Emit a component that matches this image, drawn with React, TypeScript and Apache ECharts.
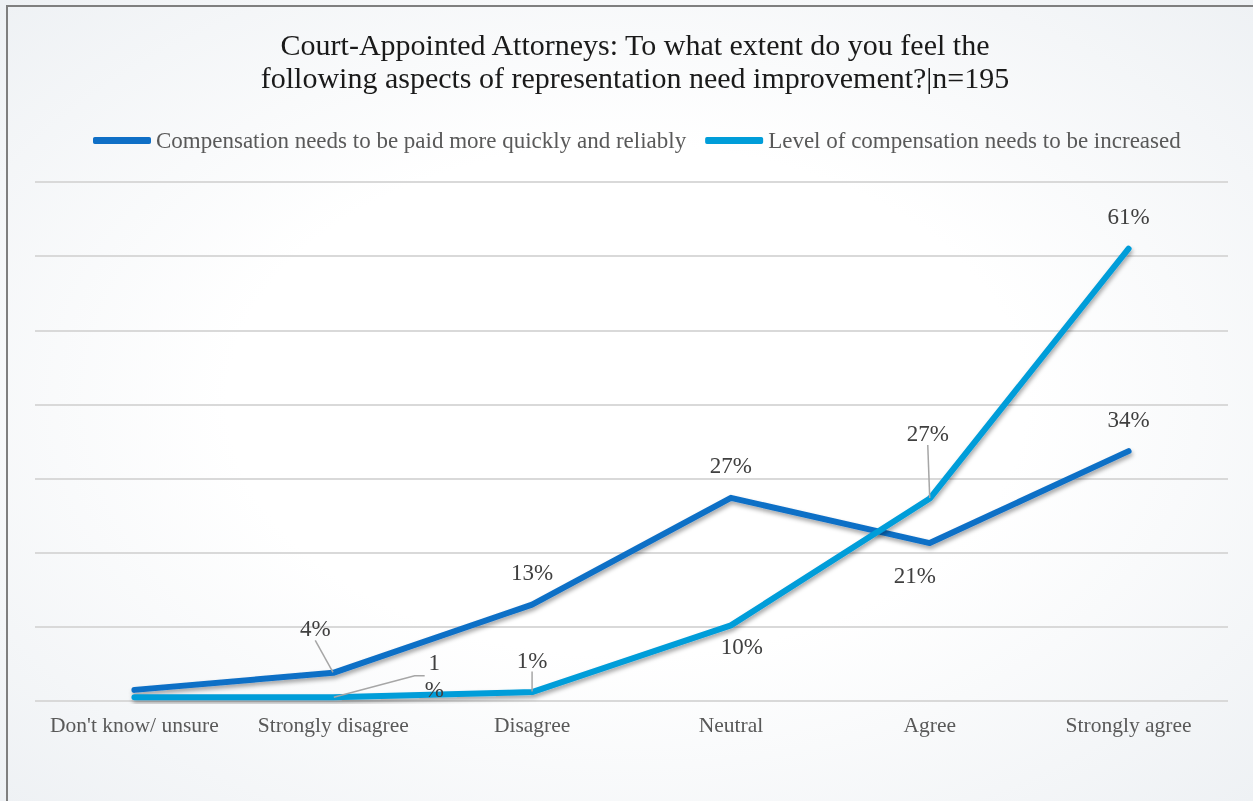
import React, { useEffect, useRef } from "react";
import * as echarts from "echarts";

const categories = ["Don't know/ unsure", "Strongly disagree", "Disagree", "Neutral", "Agree", "Strongly agree"];
const seriesNames = [
  "Compensation needs to be paid more quickly and reliably",
  "Level of compensation needs to be increased",
];
const paidQuickly = [1.5, 3.8, 13, 27.4, 21.3, 33.7];
const levelIncreased = [0.5, 0.5, 1.2, 10.2, 27.3, 61];
const yTicks = [0, 10, 20, 30, 40, 50, 60, 70];

const colors = ["#0F6FC6", "#009DD9"];
const FONT = "'Liberation Serif', 'DejaVu Serif', serif";

// label styling per point (null = no label); shift = [dx, dy] applied by labelLayout
const labelStyles: any[][] = [
  [
    null,
    { shift: [-18, -12], labelLine: true },
    {},
    {},
    { position: "bottom", shift: [-15, 0] },
    {},
  ],
  [
    null,
    { shift: [101, 26], labelLine: true, length2: 10, width: 14, overflow: "breakAll" },
    { labelLine: true },
    { position: "bottom", distance: 9, shift: [11, 0] },
    { shift: [-2, -33], labelLine: true },
    {},
  ],
];

function buildData(values: number[], si: number) {
  return values.map((v, i) => {
    const st = labelStyles[si][i];
    if (st === null) return { value: v, label: { show: false } };
    const lab: any = { show: true };
    if (st.position) lab.position = st.position;
    if (st.distance !== undefined) lab.distance = st.distance;
    if (st.width) {
      lab.width = st.width;
      lab.overflow = st.overflow;
      lab.lineHeight = 27;
    }
    return {
      value: v,
      label: lab,
      labelLine: { show: !!st.labelLine, length2: st.length2 || 0 },
    };
  });
}

export default function App() {
  const ref = useRef<HTMLDivElement>(null);
  useEffect(() => {
    if (!ref.current) return;
    const chart = echarts.init(ref.current, null, { renderer: "svg" });
    const mkSeries = (name: string, values: number[], si: number) => ({
      name,
      type: "line",
      data: buildData(values, si),
      symbol: "circle",
      symbolSize: 1,
      showSymbol: true,
      itemStyle: { color: colors[si] },
      lineStyle: {
        width: 6,
        color: colors[si],
        cap: "round",
        join: "round",
        shadowColor: "rgba(0,0,0,0.35)",
        shadowBlur: 4,
        shadowOffsetY: 3,
        shadowOffsetX: 1,
      },
      label: {
        show: true,
        position: "top",
        distance: 20,
        color: "#404040",
        fontFamily: FONT,
        fontSize: 23,
        formatter: (p: any) => Math.round(p.value) + "%",
      },
      labelLine: {
        show: false,
        length2: 0,
        lineStyle: { color: "#A6A6A6", width: 1.5 },
      },
      labelLayout: (p: any) => {
        const st = labelStyles[si][p.dataIndex];
        if (st && st.shift) return { dx: st.shift[0], dy: st.shift[1] };
        return {};
      },
      emphasis: { disabled: true },
      z: 3 + si,
    });
    chart.setOption({
      animation: false,
      title: {
        text: "Court-Appointed Attorneys: To what extent do you feel the\nfollowing aspects of representation need improvement?|n=195",
        left: 630,
        textAlign: "center",
        top: 23,
        textStyle: {
          fontFamily: FONT,
          fontSize: 30,
          fontWeight: "normal",
          color: "#1a1a1a",
          lineHeight: 33,
        },
      },
      legend: {
        top: 124,
        left: 88,
        icon: "roundRect",
        itemWidth: 58,
        itemHeight: 7,
        itemGap: 19,
        textStyle: { fontFamily: FONT, fontSize: 23, color: "#595959" },
        data: seriesNames,
      },
      graphic: [
        {
          type: "rect",
          shape: { x: 7, y: 6, width: 1400, height: 1000 },
          style: { fill: "none", stroke: "#7F7F7F", lineWidth: 2 },
          silent: true,
        },
      ],
      grid: { left: 35, right: 25, top: 182, bottom: 100, containLabel: false },
      xAxis: {
        type: "category",
        data: categories,
        boundaryGap: true,
        axisLine: { show: false },
        axisTick: { show: false },
        axisLabel: {
          interval: 0,
          fontFamily: FONT,
          fontSize: 21.5,
          color: "#595959",
          margin: 13,
        },
      },
      yAxis: {
        type: "value",
        min: yTicks[0],
        max: yTicks[yTicks.length - 1],
        interval: 10,
        axisLabel: { show: false },
        axisLine: { show: false },
        axisTick: { show: false },
        splitLine: { lineStyle: { color: "#D9D9D9", width: 2 } },
      },
      series: [
        mkSeries(seriesNames[0], paidQuickly, 0),
        mkSeries(seriesNames[1], levelIncreased, 1),
      ],
    });
    return () => chart.dispose();
  }, []);
  return (
    <div
      ref={ref}
      style={{
        position: "fixed",
        left: 0,
        top: 0,
        width: 1253,
        height: 801,
        background: "radial-gradient(ellipse at 50% 50%, #ffffff 45%, #eef1f4 100%)",
      }}
    />
  );
}
